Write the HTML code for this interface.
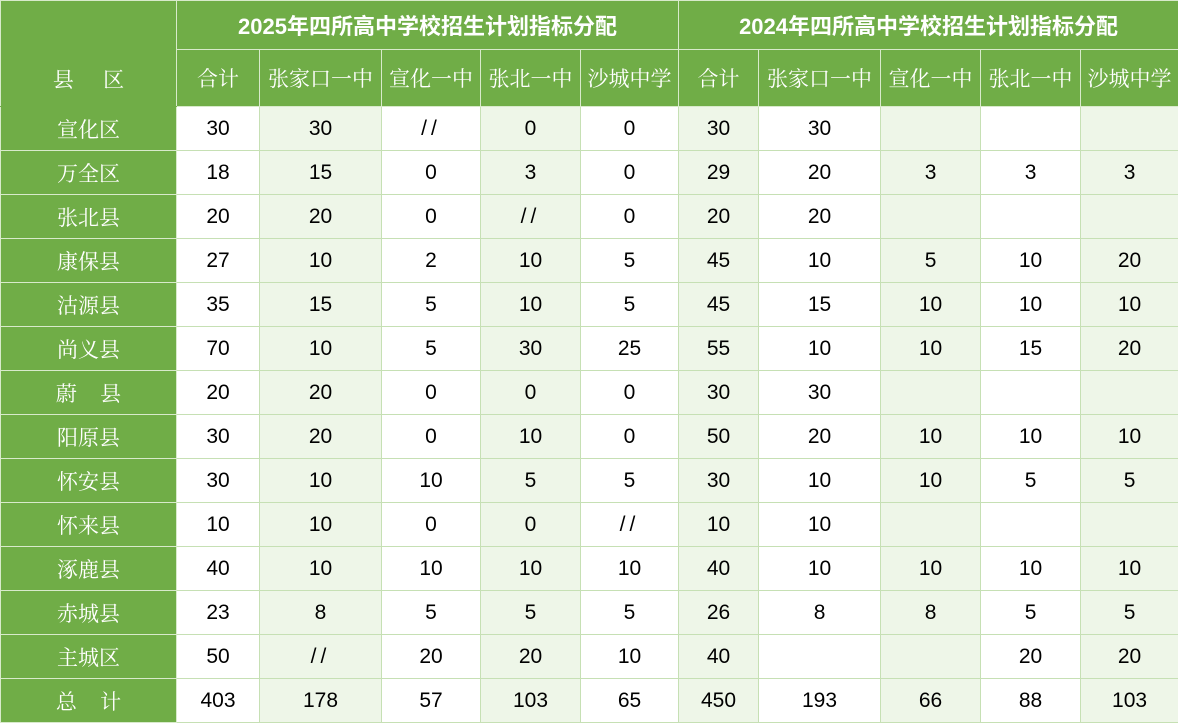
<!DOCTYPE html>
<html><head><meta charset="utf-8"><style>
body{margin:0;background:#fff;}
table{border-collapse:collapse;table-layout:fixed;width:1178px;font-family:"Liberation Sans","Noto Serif CJK SC",serif;font-size:21px;}
td{border:1px solid #C6E0B4;text-align:center;padding:0;height:43px;color:#000;white-space:nowrap;overflow:hidden;}
td.g{background:#70AD47;color:#fff;border-color:#D8EACB;}
td.l{background:#EEF6E8;}
tr.h1 td{height:48px;font-weight:bold;font-size:22px;font-family:"Liberation Sans","Noto Sans CJK SC",sans-serif;}
tr.h2 td{height:56px;}
.s{letter-spacing:4px;font-weight:300;}
</style></head><body>
<table>
<colgroup><col style="width:176px"><col style="width:83px"><col style="width:122px"><col style="width:99px"><col style="width:100px"><col style="width:98px"><col style="width:80px"><col style="width:122px"><col style="width:100px"><col style="width:100px"><col style="width:98px"></colgroup>
<tr class="h1"><td class="g" rowspan="2" style="font-weight:normal;font-size:21px;font-family:'Liberation Sans','Noto Serif CJK SC',serif;vertical-align:bottom;padding-bottom:12px;border-bottom-color:#70AD47">县&nbsp;&nbsp;&nbsp;&nbsp;&nbsp;区</td><td class="g" colspan="5">2025年四所高中学校招生计划指标分配</td><td class="g" colspan="5">2024年四所高中学校招生计划指标分配</td></tr>
<tr class="h2"><td class="g">合计</td><td class="g">张家口一中</td><td class="g">宣化一中</td><td class="g">张北一中</td><td class="g">沙城中学</td><td class="g">合计</td><td class="g">张家口一中</td><td class="g">宣化一中</td><td class="g">张北一中</td><td class="g">沙城中学</td></tr>
<tr><td class="g">宣化区</td><td>30</td><td class="l">30</td><td><span class="s">//</span></td><td class="l">0</td><td>0</td><td class="l">30</td><td>30</td><td class="l"></td><td></td><td class="l"></td></tr>
<tr><td class="g">万全区</td><td>18</td><td class="l">15</td><td>0</td><td class="l">3</td><td>0</td><td class="l">29</td><td>20</td><td class="l">3</td><td>3</td><td class="l">3</td></tr>
<tr><td class="g">张北县</td><td>20</td><td class="l">20</td><td>0</td><td class="l"><span class="s">//</span></td><td>0</td><td class="l">20</td><td>20</td><td class="l"></td><td></td><td class="l"></td></tr>
<tr><td class="g">康保县</td><td>27</td><td class="l">10</td><td>2</td><td class="l">10</td><td>5</td><td class="l">45</td><td>10</td><td class="l">5</td><td>10</td><td class="l">20</td></tr>
<tr><td class="g">沽源县</td><td>35</td><td class="l">15</td><td>5</td><td class="l">10</td><td>5</td><td class="l">45</td><td>15</td><td class="l">10</td><td>10</td><td class="l">10</td></tr>
<tr><td class="g">尚义县</td><td>70</td><td class="l">10</td><td>5</td><td class="l">30</td><td>25</td><td class="l">55</td><td>10</td><td class="l">10</td><td>15</td><td class="l">20</td></tr>
<tr><td class="g">蔚&nbsp;&nbsp;&nbsp;&nbsp;县</td><td>20</td><td class="l">20</td><td>0</td><td class="l">0</td><td>0</td><td class="l">30</td><td>30</td><td class="l"></td><td></td><td class="l"></td></tr>
<tr><td class="g">阳原县</td><td>30</td><td class="l">20</td><td>0</td><td class="l">10</td><td>0</td><td class="l">50</td><td>20</td><td class="l">10</td><td>10</td><td class="l">10</td></tr>
<tr><td class="g">怀安县</td><td>30</td><td class="l">10</td><td>10</td><td class="l">5</td><td>5</td><td class="l">30</td><td>10</td><td class="l">10</td><td>5</td><td class="l">5</td></tr>
<tr><td class="g">怀来县</td><td>10</td><td class="l">10</td><td>0</td><td class="l">0</td><td><span class="s">//</span></td><td class="l">10</td><td>10</td><td class="l"></td><td></td><td class="l"></td></tr>
<tr><td class="g">涿鹿县</td><td>40</td><td class="l">10</td><td>10</td><td class="l">10</td><td>10</td><td class="l">40</td><td>10</td><td class="l">10</td><td>10</td><td class="l">10</td></tr>
<tr><td class="g">赤城县</td><td>23</td><td class="l">8</td><td>5</td><td class="l">5</td><td>5</td><td class="l">26</td><td>8</td><td class="l">8</td><td>5</td><td class="l">5</td></tr>
<tr><td class="g">主城区</td><td>50</td><td class="l"><span class="s">//</span></td><td>20</td><td class="l">20</td><td>10</td><td class="l">40</td><td></td><td class="l"></td><td>20</td><td class="l">20</td></tr>
<tr><td class="g">总&nbsp;&nbsp;&nbsp;&nbsp;计</td><td>403</td><td class="l">178</td><td>57</td><td class="l">103</td><td>65</td><td class="l">450</td><td>193</td><td class="l">66</td><td>88</td><td class="l">103</td></tr>
</table>
</body></html>
